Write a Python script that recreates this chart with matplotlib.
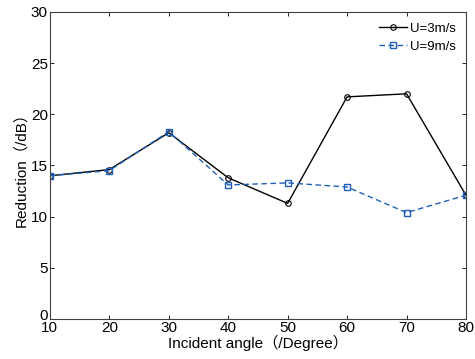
import matplotlib
matplotlib.use('Agg')
import matplotlib.pyplot as plt
import matplotlib.transforms as mtransforms

plt.rcParams['font.family'] = ['Liberation Sans', 'Noto Sans CJK SC']
plt.rcParams['font.size'] = 11

angles = [10, 20, 30, 40, 50, 60, 70, 80]
u3 = [14.0, 14.6, 18.2, 13.8, 11.3, 21.7, 22.0, 12.1]
u9 = [14.0, 14.5, 18.3, 13.1, 13.3, 12.9, 10.4, 12.1]

fig = plt.figure(figsize=(4.75, 3.59), dpi=100)
ax = fig.add_axes([0.105, 0.111, 0.876, 0.856])

ax.plot(angles, u3, color='black', linewidth=1, marker='o', markersize=4,
        markerfacecolor='none', markeredgewidth=0.8, label='U=3m/s')
ax.plot(angles, u9, color='#2060b8', linewidth=1, linestyle='--', dashes=(4, 2.5),
        marker='s', markersize=5, markerfacecolor='none', markeredgewidth=1,
        label='U=9m/s')

ax.set_xlim(10, 80)
ax.set_ylim(0, 30)
ax.set_xticks(angles)
ax.set_yticks(range(0, 31, 5))
ax.tick_params(direction='in', top=True, right=True, length=3, width=0.6, pad=1.5)
for s in ax.spines.values():
    s.set_linewidth(0.8)
    s.set_color('#404040')

# nudge the "0" up so it does not sit on the "10"
lbl0 = ax.get_yticklabels()[0]
lbl0.set_transform(lbl0.get_transform() +
                   mtransforms.ScaledTranslation(0, 5 / 100, fig.dpi_scale_trans))

ax.set_xlabel('Incident angle（/Degree）', labelpad=0)
ax.set_ylabel('Reduction（/dB）', labelpad=2)
ax.legend(loc='upper right', frameon=False, fontsize=9.5, handlelength=2.1,
          handletextpad=0.2, borderaxespad=0.4, labelspacing=0.45)

fig.savefig('out.png', dpi=100)
